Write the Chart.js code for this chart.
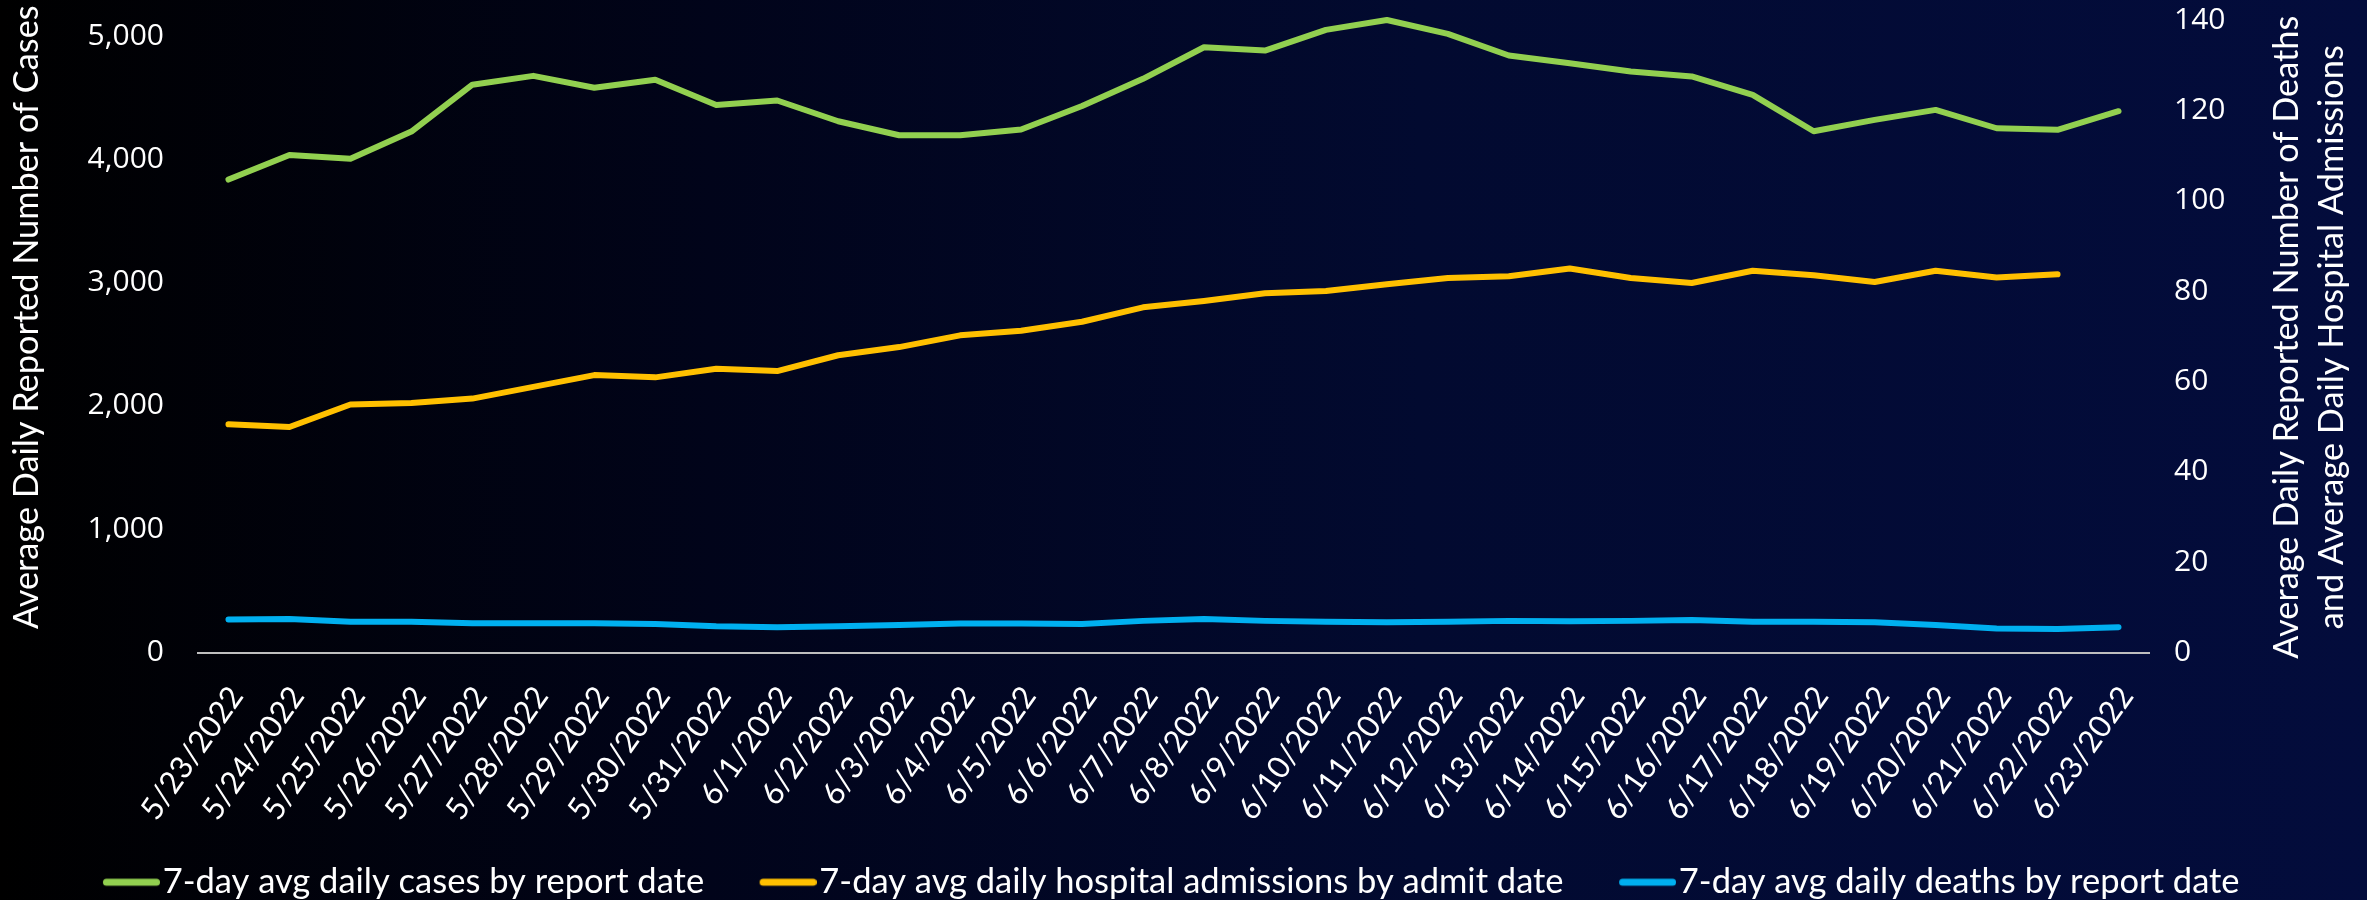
<!DOCTYPE html>
<html>
<head>
<meta charset="utf-8">
<script src="https://cdn.jsdelivr.net/npm/chart.js@4.4.1/dist/chart.umd.min.js"></script>
<style>
    html, body { margin: 0; padding: 0; }
    body {
        width: 2367px;
        height: 900px;
        overflow: hidden;
        background: linear-gradient(to right, #000000 0%, #01041a 30%, #020a30 60%, #030c3c 100%);
    }
</style>
</head>
<body>
<canvas id="trend-chart" width="2367" height="900"></canvas>
<script>

var dates = [
    "5/23/2022", "5/24/2022", "5/25/2022", "5/26/2022", "5/27/2022", "5/28/2022",
    "5/29/2022", "5/30/2022", "5/31/2022", "6/1/2022", "6/2/2022", "6/3/2022",
    "6/4/2022", "6/5/2022", "6/6/2022", "6/7/2022", "6/8/2022", "6/9/2022",
    "6/10/2022", "6/11/2022", "6/12/2022", "6/13/2022", "6/14/2022", "6/15/2022",
    "6/16/2022", "6/17/2022", "6/18/2022", "6/19/2022", "6/20/2022", "6/21/2022",
    "6/22/2022", "6/23/2022"
];

// left axis
var cases = [
    3836, 4035, 4004, 4225, 4605, 4677, 4580, 4645, 4440, 4477, 4309, 4195,
    4195, 4242, 4432, 4653, 4909, 4882, 5050, 5130, 5017, 4842, 4780, 4712,
    4672, 4523, 4228, 4320, 4401, 4252, 4239, 4390
];

// right axis
var admissions = [
    50.5, 49.9, 54.9, 55.2, 56.2, 58.8, 61.4, 60.9, 62.8, 62.3, 65.8, 67.6,
    70.2, 71.2, 73.2, 76.4, 77.8, 79.5, 80.0, 81.5, 82.9, 83.3, 85.0, 82.9,
    81.8, 84.5, 83.5, 82.0, 84.5, 83.0, 83.7, null
];

var deaths = [
    7.3, 7.4, 6.8, 6.8, 6.5, 6.5, 6.5, 6.3, 5.8, 5.6, 5.8, 6.1,
    6.4, 6.4, 6.3, 7.0, 7.4, 7.0, 6.8, 6.7, 6.8, 7.0, 6.9, 7.0,
    7.2, 6.8, 6.8, 6.7, 6.1, 5.3, 5.2, 5.6
];

var seriesNames = [
    "7-day avg daily cases by report date",
    "7-day avg daily hospital admissions by admit date",
    "7-day avg daily deaths by report date"
];
var seriesColors = ["#92d050", "#ffc000", "#00b0f0"];

var leftTicks = [0, 1000, 2000, 3000, 4000, 5000];
var leftTitle = "Average Daily Reported Number of Cases";
var rightTitle = ["Average Daily Reported Number of Deaths", "and Average Daily Hospital Admissions"];

var leftMax = 5130;
var rightMax = 140;

var titleFont = "34.3px Lato";
var tickFont = { family: "'Open Sans'", size: 30 };
var dateFont = { family: "Lato", size: 31 };
var legendFont = { family: "Lato", size: 34.5 };


// short rounded line for the legend, drawn at the right end so it sits close to the text
function legendMarker(color) {
    let c = document.createElement("canvas");
    c.width = 103;
    c.height = 10;
    let g = c.getContext("2d");
    g.strokeStyle = color;
    g.lineWidth = 7;
    g.lineCap = "round";
    g.beginPath();
    g.moveTo(c.width - 53.5, 5);
    g.lineTo(c.width - 3.5, 5);
    g.stroke();
    return c;
}

// axis titles drawn by hand so the right one reads bottom-to-top like the left one
var axisTitlePlugin = {
    id: "axisTitles",
    afterDraw: function(chart) {
        let ctx = chart.ctx;
        let area = chart.chartArea;
        let midY = (area.top + area.bottom) / 2;
        ctx.save();
        ctx.fillStyle = "#ffffff";
        ctx.font = titleFont;
        ctx.textAlign = "center";
        ctx.textBaseline = "middle";

        ctx.save();
        ctx.translate(27, midY - 19);
        ctx.rotate(-Math.PI / 2);
        ctx.fillText(leftTitle, 0, 0);
        ctx.restore();

        ctx.save();
        ctx.translate(chart.scales.y1.left + 138, midY + 1);
        ctx.rotate(-Math.PI / 2);
        ctx.fillText(rightTitle[0], 0, 0);
        ctx.fillText(rightTitle[1], 0, 45);
        ctx.restore();

        ctx.restore();
    }
};

// fixed side widths, and no extra top/bottom room from tick padding
function fixSide(width) {
    return function(scale) {
        scale.width = width;
        scale.paddingTop = 0;
        scale.paddingBottom = 0;
    };
}


function makeLine(idx, data, axis) {
    return {
        label: seriesNames[idx],
        data: data,
        yAxisID: axis,
        borderColor: seriesColors[idx],
        backgroundColor: seriesColors[idx],
        borderWidth: 6,
        borderCapStyle: "round",
        borderJoinStyle: "round",
        pointRadius: 0,
        pointStyle: legendMarker(seriesColors[idx]),
        tension: 0,
        fill: false,
        clip: false
    };
}

let chartData = {
    labels: dates,
    datasets: [
        makeLine(0, cases, "y"),
        makeLine(1, admissions, "y1"),
        makeLine(2, deaths, "y1")
    ]
};

let chartOptions = {
    responsive: false,
    animation: false,
    layout: {
        padding: { top: 20, right: 56, bottom: -9.5, left: 0 }
    },
    plugins: {
        legend: {
            position: "bottom",
            labels: {
                color: "#ffffff",
                font: legendFont,
                usePointStyle: true,
                pointStyleWidth: 74,
                padding: 24
            }
        },
        tooltip: { enabled: false }
    },
    scales: {
        x: {
            offset: true,
            grid: { display: false, drawTicks: false },
            border: { display: true, color: "#bfbfbf", width: 2 },
            ticks: {
                color: "#ffffff",
                font: dateFont,
                autoSkip: false,
                maxRotation: 55,
                minRotation: 55,
                padding: 27,
                labelOffset: 8
            },
            afterFit: function(scale) {
                scale.height = 188.5;
                scale.paddingLeft = 0;
                scale.paddingRight = 0;
            }
        },
        y: {
            position: "left",
            min: 0,
            max: leftMax,
            grid: { display: false, drawTicks: false },
            border: { display: false },
            ticks: {
                color: "#ffffff",
                font: tickFont,
                padding: 34,
                callback: function(v) { return v.toLocaleString("en-US"); }
            },
            afterBuildTicks: function(scale) {
                scale.ticks = leftTicks.map(function(v) { return { value: v }; });
            },
            afterFit: fixSide(198)
        },
        y1: {
            position: "right",
            min: 0,
            max: rightMax,
            grid: { display: false, drawTicks: false },
            border: { display: false },
            ticks: {
                stepSize: 20,
                color: "#ffffff",
                font: tickFont,
                padding: 25
            },
            afterFit: fixSide(162)
        }
    }
};

let ctx = document.getElementById("trend-chart").getContext("2d");
var trendChartInstance = new Chart(ctx, {
    type: "line",
    data: chartData,
    options: chartOptions,
    plugins: [axisTitlePlugin]
});
</script>
</body>
</html>
